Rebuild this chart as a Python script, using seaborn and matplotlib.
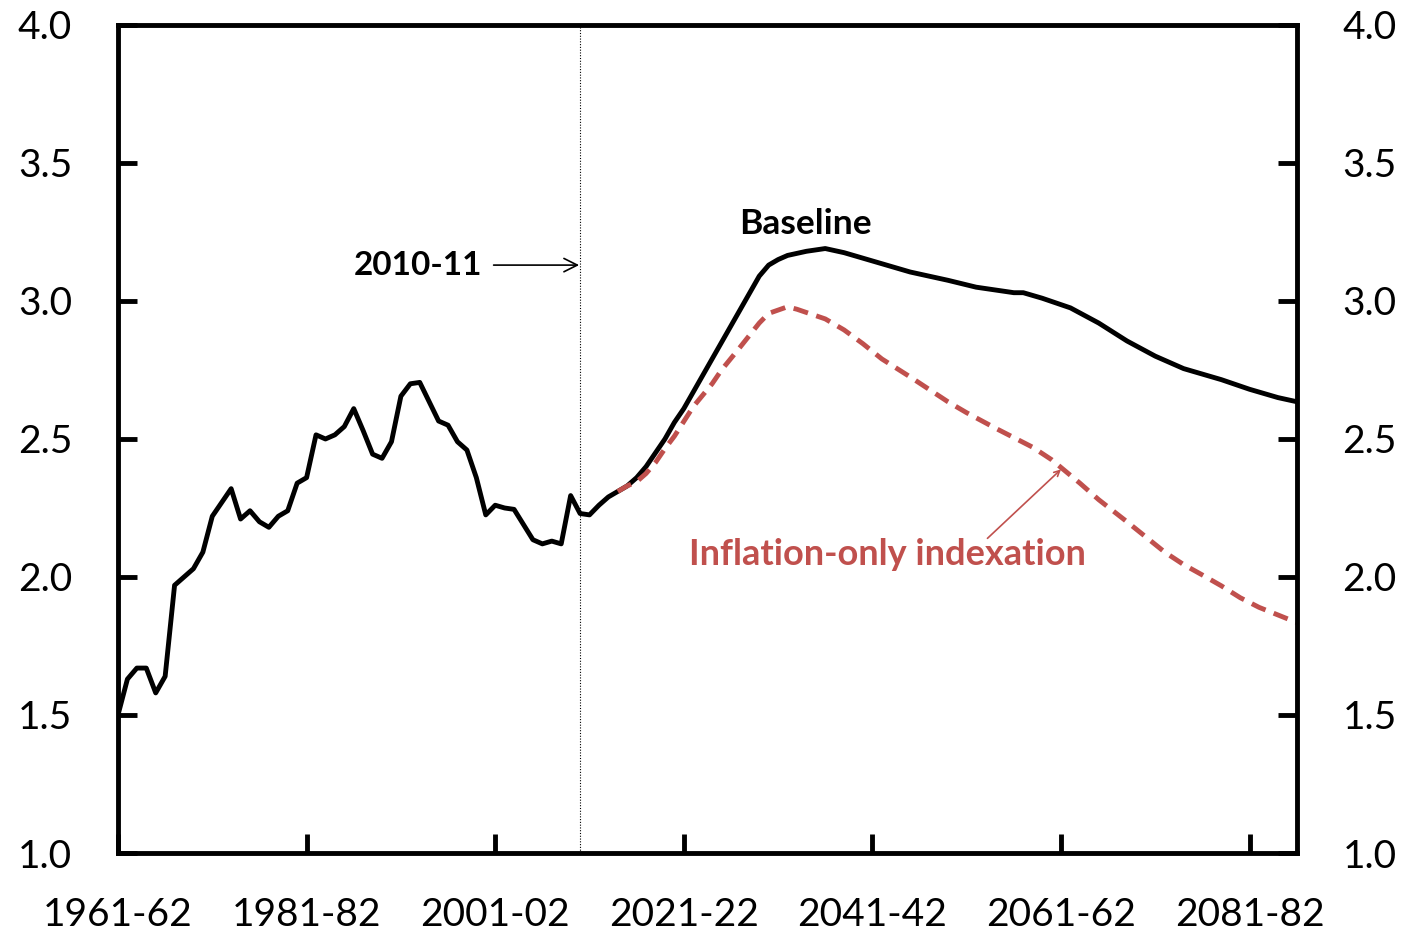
import numpy as np
import pandas as pd
import matplotlib
matplotlib.use("Agg")
import matplotlib.pyplot as plt
import seaborn as sns

# ---- data ----
HIST_START = 1961
hist_values = [1.50, 1.63, 1.67, 1.67, 1.58, 1.64, 1.97, 2.00, 2.03, 2.09,
               2.22, 2.27, 2.32, 2.21, 2.24, 2.20, 2.18, 2.22, 2.24, 2.34,
               2.36, 2.515, 2.50, 2.515, 2.545, 2.61, 2.53, 2.445, 2.43, 2.49,
               2.655, 2.70, 2.705, 2.635, 2.565, 2.55, 2.49, 2.46, 2.36, 2.225,
               2.26, 2.25, 2.245, 2.19, 2.135, 2.12, 2.13, 2.12, 2.295, 2.23,
               2.225]

base_years = [2012, 2013, 2014, 2015, 2016, 2017, 2018, 2019, 2020, 2021,
              2022, 2023, 2024, 2025, 2026, 2027, 2028, 2029, 2030, 2031,
              2032, 2034, 2035, 2036, 2038, 2040, 2042, 2045, 2047, 2049,
              2052, 2056, 2057, 2059, 2062, 2065, 2068, 2071, 2074, 2078,
              2081, 2084, 2086]
base_values = [2.26, 2.29, 2.31, 2.33, 2.36, 2.40, 2.45, 2.50, 2.56, 2.61,
               2.67, 2.73, 2.79, 2.85, 2.91, 2.97, 3.03, 3.09, 3.13, 3.15,
               3.165, 3.18, 3.185, 3.19, 3.175, 3.155, 3.135, 3.105, 3.09, 3.075,
               3.05, 3.03, 3.03, 3.01, 2.975, 2.92, 2.855, 2.80, 2.755, 2.715,
               2.68, 2.65, 2.635]

infl_years = [2014, 2015, 2016, 2017, 2018, 2019, 2020, 2022, 2024, 2025,
              2027, 2029, 2030, 2032, 2033, 2036, 2038, 2040, 2042, 2045,
              2047, 2049, 2051, 2054, 2056, 2058, 2060, 2063, 2065, 2068,
              2070, 2072, 2074, 2076, 2078, 2080, 2082, 2086]
infl_values = [2.31, 2.33, 2.345, 2.375, 2.415, 2.465, 2.51, 2.617, 2.70, 2.75,
               2.834, 2.92, 2.955, 2.979, 2.97, 2.935, 2.895, 2.845, 2.79, 2.725,
               2.68, 2.635, 2.595, 2.54, 2.505, 2.47, 2.425, 2.34, 2.28, 2.20,
               2.145, 2.09, 2.045, 2.007, 1.968, 1.925, 1.89, 1.835]

tick_years = [1961, 1981, 2001, 2021, 2041, 2061, 2081]
tick_labels = [f"{y}-{str(y + 1)[-2:]}" for y in tick_years]
y_ticks = [1.0, 1.5, 2.0, 2.5, 3.0, 3.5, 4.0]

RED = "#C0504D"

# ---- frames ----
hist_years = list(range(HIST_START, HIST_START + len(hist_values)))
baseline = pd.DataFrame({"year": hist_years + base_years,
                         "value": hist_values + base_values})
inflation = pd.DataFrame({"year": infl_years, "value": infl_values})

sns.set_style("white")
plt.rcParams["font.family"] = ["Lato", "DejaVu Sans"]
plt.rcParams["text.color"] = "black"

fig = plt.figure(figsize=(14.08, 9.35), dpi=100)
ax = fig.add_axes([0.0838, 0.0877, 0.8372, 0.8856])

sns.lineplot(data=baseline, x="year", y="value", color="black",
             linewidth=3.5, ax=ax)
sns.lineplot(data=inflation, x="year", y="value", color=RED,
             linewidth=3.5, ax=ax)
ax.lines[-1].set_dashes([3.1, 1.8])

ax.axvline(2010, color="black", linestyle=(0, (1, 1.5)), linewidth=0.8)

ax.set_xlim(1961, 2086)
ax.set_ylim(1.0, 4.0)
ax.set_xticks(tick_years)
ax.set_xticklabels(tick_labels)
ax.set_yticks(y_ticks)
ax.set_yticklabels([f"{v:.1f}" for v in y_ticks])
ax.set_xlabel("")
ax.set_ylabel("")

for s in ax.spines.values():
    s.set_linewidth(3.5)
    s.set_color("black")

ax.tick_params(axis="both", direction="in", length=14, width=3.5,
               labelsize=28, colors="black")
ax.tick_params(axis="y", left=True, right=True, labelleft=True,
               labelright=True, pad=33)
ax.tick_params(axis="x", bottom=True, top=False, pad=32)

# annotations
ax.text(2033.9, 3.28, "Baseline", fontsize=25.5, fontweight="bold",
        color="black", ha="center", va="center")
ax.annotate("2010-11", xy=(2009.9, 3.13), xytext=(1999.6, 3.13),
            fontsize=24, fontweight="bold", color="black",
            ha="right", va="center",
            arrowprops=dict(arrowstyle="->", color="black", lw=1.2,
                            shrinkA=6, shrinkB=0))
ax.text(2021.6, 2.08, "Inflation-only indexation", fontsize=26,
        fontweight="bold", color=RED, ha="left", va="center")
ax.annotate("", xy=(2061.0, 2.39), xytext=(2053.2, 2.14),
            arrowprops=dict(arrowstyle="->", color=RED, lw=1.2,
                            shrinkA=0, shrinkB=0))

fig.savefig("out.png", dpi=100)
